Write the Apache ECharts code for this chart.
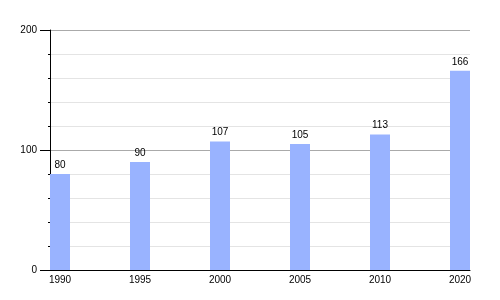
<!DOCTYPE html>
<html><head><meta charset="utf-8">
<script src="https://cdn.jsdelivr.net/npm/echarts@6/dist/echarts.min.js"></script>
<style>html,body{margin:0;padding:0;background:#fff}#c{width:500px;height:300px}</style>
</head><body><div id="c"></div>
<script>
const years = ['1990','1995','2000','2005','2010','2020'];
const values = [80, 90, 107, 105, 113, 166];
const yTicks = [0, 100, 200];

const FONT = 'Liberation Sans';
const chart = echarts.init(document.getElementById('c'), null, {renderer:'canvas'});
chart.setOption({
  animation: false,
  grid: {left: 50, right: 30, top: 30, bottom: 30, containLabel: false},
  xAxis: {
    type: 'value', min: -0.125, max: years.length - 1 + 0.125,
    axisLine: {show: true, onZero: false, lineStyle: {color: '#000', width: 1}},
    axisTick: {show: false},
    splitLine: {show: false},
    axisLabel: {
      customValues: years.map((y, i) => i),
      formatter: v => years[Math.round(v)],
      color: '#000', fontFamily: FONT, fontSize: 10, margin: 5
    }
  },
  yAxis: {
    type: 'value', min: yTicks[0], max: yTicks[yTicks.length-1], interval: 100,
    axisLine: {show: true, onZero: false, lineStyle: {color: '#000', width: 1}},
    axisTick: {show: true, length: 10, lineStyle: {color: '#000'}},
    minorTick: {show: true, splitNumber: 5, length: 2, lineStyle: {color: '#000'}},
    splitLine: {show: true, lineStyle: {color: '#aaaaaa', width: 1}},
    minorSplitLine: {show: true, lineStyle: {color: '#e4e4e4', width: 1}},
    axisLabel: {color: '#000', fontFamily: FONT, fontSize: 10, margin: 13}
  },
  series: [{
    type: 'bar',
    data: values.map((v, i) => [i, v]),
    barWidth: 20,
    itemStyle: {color: '#99b3ff'},
    label: {show: true, position: 'top', distance: 4, color: '#000', fontFamily: FONT, fontSize: 10}
  }]
});
</script></body></html>
